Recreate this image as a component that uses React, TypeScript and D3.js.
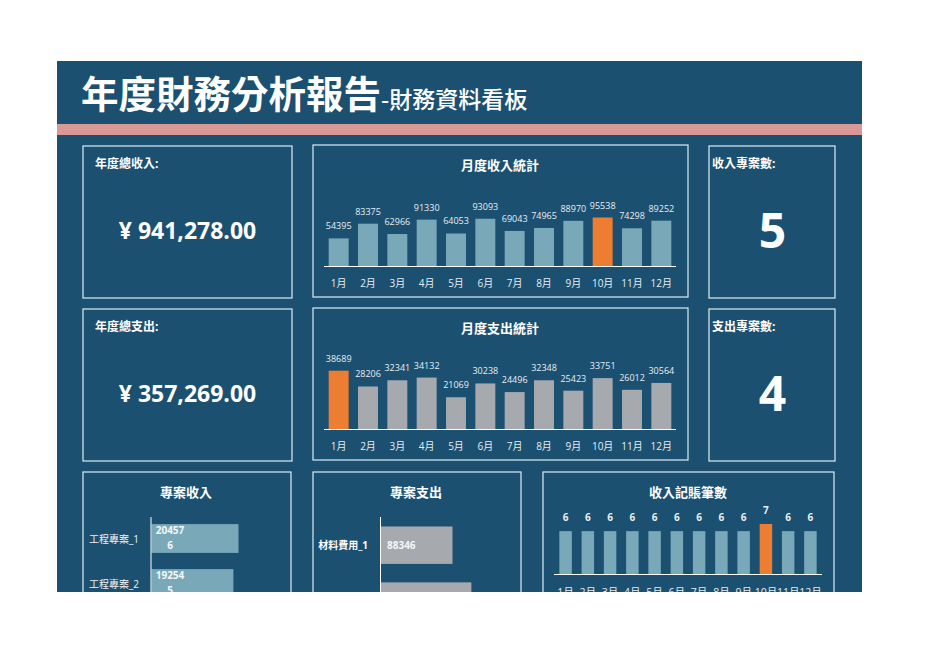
import React from 'react';
import * as d3 from 'd3';

// monthly data
const months = ['1月', '2月', '3月', '4月', '5月', '6月', '7月', '8月', '9月', '10月', '11月', '12月'];
const monthlyIncome = [54395, 83375, 62966, 91330, 64053, 93093, 69043, 74965, 88970, 95538, 74298, 89252];
const monthlyExpense = [38689, 28206, 32341, 34132, 21069, 30238, 24496, 32348, 25423, 33751, 26012, 30564];
const incomeCounts = [6, 6, 6, 6, 6, 6, 6, 6, 6, 7, 6, 6];

// project data (only the first rows are visible in the print area)
const incomeProjects = ['工程專案_1', '工程專案_2', '工程專案_3', '工程專案_4', '工程專案_5'];
const incomeProjectValues = [204576, 192545, 188000, 182000, 174157];
const expenseProjects = ['材料費用_1', '材料費用_2', '材料費用_3', '材料費用_4'];
const expenseProjectValues = [88346, 111500, 82000, 75423];

const BG = '#1c5070';
const BORDER = '#dbedf4';
const INCOME_BAR = '#79a9b9';
const EXPENSE_BAR = '#a6a9ae';
const HIGHLIGHT = '#ed7d31';
const FONT = '"Open Sans", "Noto Sans CJK TC", sans-serif';
const PAGE_BOTTOM = 592;

const fmtMoney = d3.format(',.2f');

interface Box { x: number; y: number; w: number; h: number; }

const Panel: React.FC<{ box: Box }> = ({ box }) => (
  <rect x={box.x} y={box.y} width={box.w} height={box.h} fill="none" stroke={BORDER} strokeWidth={1.2} />
);

const MonthBars: React.FC<{
  values: number[];
  color: string;
  x0: number; x1: number;
  base: number; maxVal: number; maxH: number;
  labelBold?: boolean;
  labelSize?: number;
  monthY: number;
  monthSize?: number;
  padIn: number; padOut: number;
}> = ({ values, color, x0, x1, base, maxVal, maxH, labelBold, labelSize = 9, monthY, monthSize = 10, padIn, padOut }) => {
  const x = d3.scaleBand<string>().domain(months).range([x0, x1]).paddingInner(padIn).paddingOuter(padOut);
  const y = d3.scaleLinear().domain([0, maxVal]).range([base, base - maxH]);
  const top = d3.max(values)!;
  return (
    <g>
      {values.map((v, i) => (
        <g key={i}>
          <rect x={x(months[i])} y={y(v)} width={x.bandwidth()} height={base - y(v)} fill={v === top ? HIGHLIGHT : color} />
          <text x={x(months[i])! + x.bandwidth() / 2} y={y(v) - (labelBold ? 10 : 9)} textAnchor="middle"
            fontSize={labelSize} fontWeight={labelBold ? 700 : 400} fill="#e6eef2">{v}</text>
          <text x={x(months[i])! + x.bandwidth() / 2} y={monthY} textAnchor="middle" fontSize={monthSize} fill="#e6eef2">{months[i]}</text>
        </g>
      ))}
      <line x1={x0} x2={x1} y1={base + 0.5} y2={base + 0.5} stroke="#ffffff" strokeWidth={1.2} />
    </g>
  );
};

const App: React.FC = () => {
  const totalIncome = d3.sum(monthlyIncome);
  const totalExpense = d3.sum(monthlyExpense);

  const incY = d3.scaleBand<string>().domain(incomeProjects).range([516, 516 + 45 * 5]).paddingInner(0.36).paddingOuter(0.18);
  const incX = d3.scaleLinear().domain([0, 204576]).range([0, 87]);
  const expY = d3.scaleBand<string>().domain(expenseProjects).range([517, 517 + 56 * 4]).paddingInner(0.33).paddingOuter(0.17);
  const expX = d3.scaleLinear().domain([0, 88346]).range([0, 72]);

  // rows that fall below the printed page are not drawn
  const incRows = incomeProjects.map((p, i) => ({ p, v: incomeProjectValues[i] })).filter(d => incY(d.p)! < PAGE_BOTTOM);
  const expRows = expenseProjects.map((p, i) => ({ p, v: expenseProjectValues[i] })).filter(d => expY(d.p)! < PAGE_BOTTOM);

  return (
    <svg width={936} height={662} style={{ position: 'absolute', left: 0, top: 0, fontFamily: FONT }}>
      <rect width={936} height={662} fill="#ffffff" />
      <defs>
        <clipPath id="page">
          <rect x={57} y={61} width={805} height={PAGE_BOTTOM - 61} />
        </clipPath>
      </defs>
      <g clipPath="url(#page)">
        <rect x={57} y={61} width={805} height={PAGE_BOTTOM - 61} fill={BG} />
        <text x={81} y={108} fill="#ffffff" fontWeight={700} fontSize={37.5} fontFamily='"Noto Sans CJK TC", sans-serif'>
          年度財務分析報告
          <tspan fontSize={23} fontWeight={500}>-財務資料看板</tspan>
        </text>
        <rect x={57} y={124} width={805} height={11} fill="#d99a97" />

        {/* KPI panels */}
        <Panel box={{ x: 83, y: 146, w: 209, h: 152 }} />
        <text x={95} y={168} fill="#ffffff" fontWeight={700} fontSize={12}>年度總收入:</text>
        <text x={187.5} y={239} textAnchor="middle" fill="#ffffff" fontWeight={700} fontSize={23}>¥ {fmtMoney(totalIncome)}</text>

        <Panel box={{ x: 83, y: 309, w: 209, h: 152 }} />
        <text x={95} y={331} fill="#ffffff" fontWeight={700} fontSize={12}>年度總支出:</text>
        <text x={187.5} y={402} textAnchor="middle" fill="#ffffff" fontWeight={700} fontSize={23}>¥ {fmtMoney(totalExpense)}</text>

        <Panel box={{ x: 709, y: 146, w: 126, h: 152 }} />
        <text x={712} y={168} fill="#ffffff" fontWeight={700} fontSize={12}>收入專案數:</text>
        <text x={772.5} y={248} textAnchor="middle" fill="#ffffff" fontWeight={700} fontSize={48}>{incomeProjects.length}</text>

        <Panel box={{ x: 709, y: 309, w: 126, h: 152 }} />
        <text x={712} y={331} fill="#ffffff" fontWeight={700} fontSize={12}>支出專案數:</text>
        <text x={772.5} y={411} textAnchor="middle" fill="#ffffff" fontWeight={700} fontSize={48}>{expenseProjects.length}</text>

        {/* monthly income */}
        <Panel box={{ x: 313, y: 145, w: 375, h: 152 }} />
        <text x={500} y={170} textAnchor="middle" fill="#ffffff" fontWeight={700} fontSize={13}>月度收入統計</text>
        <MonthBars values={monthlyIncome} color={INCOME_BAR} x0={324} x1={676} base={266} maxVal={95538} maxH={48.5}
          monthY={286.5} padIn={0.32} padOut={0.16} />

        {/* monthly expense */}
        <Panel box={{ x: 313, y: 308, w: 375, h: 152 }} />
        <text x={500} y={333} textAnchor="middle" fill="#ffffff" fontWeight={700} fontSize={13}>月度支出統計</text>
        <MonthBars values={monthlyExpense} color={EXPENSE_BAR} x0={324} x1={676} base={429} maxVal={38689} maxH={58.3}
          monthY={450} padIn={0.32} padOut={0.16} />

        {/* project income */}
        <Panel box={{ x: 83, y: 472, w: 208, h: 160 }} />
        <text x={186} y={497} textAnchor="middle" fill="#ffffff" fontWeight={700} fontSize={13}>專案收入</text>
        {incRows.map(({ p, v }) => {
          const y = incY(p)!;
          const s = String(v);
          return (
            <g key={p}>
              <rect x={151.5} y={y} width={incX(v)} height={incY.bandwidth()} fill={INCOME_BAR} />
              <text x={139} y={y + incY.bandwidth() / 2 + 4} textAnchor="end" fontSize={10} fill="#eef3f6">{p}</text>
              <text x={170} y={y + 10} textAnchor="middle" fontSize={10} fontWeight={700} fill="#f4f7f9">
                <tspan x={170}>{s.slice(0, 5)}</tspan>
                {y + 25 < PAGE_BOTTOM + 8 && <tspan x={170} dy={15}>{s.slice(5)}</tspan>}
              </text>
            </g>
          );
        })}
        <line x1={151} x2={151} y1={517} y2={PAGE_BOTTOM} stroke="#ffffff" strokeWidth={1} />

        {/* project expense */}
        <Panel box={{ x: 313, y: 472, w: 208, h: 160 }} />
        <text x={416} y={497} textAnchor="middle" fill="#ffffff" fontWeight={700} fontSize={13}>專案支出</text>
        {expRows.map(({ p, v }) => {
          const y = expY(p)!;
          const cy = y + expY.bandwidth() / 2 + 4;
          return (
            <g key={p}>
              <rect x={380.5} y={y} width={expX(v)} height={expY.bandwidth()} fill={EXPENSE_BAR} />
              {cy < PAGE_BOTTOM && (
                <>
                  <text x={368} y={cy} textAnchor="end" fontSize={10} fontWeight={700} fill="#ffffff">{p}</text>
                  <text x={387} y={cy} fontSize={10} fontWeight={700} fill="#f4f7f9">{v}</text>
                </>
              )}
            </g>
          );
        })}
        <line x1={380.5} x2={380.5} y1={517} y2={PAGE_BOTTOM} stroke="#ffffff" strokeWidth={1} />

        {/* income entry counts */}
        <Panel box={{ x: 543, y: 472, w: 291, h: 160 }} />
        <text x={688} y={497} textAnchor="middle" fill="#ffffff" fontWeight={700} fontSize={13}>收入記賬筆數</text>
        <MonthBars values={incomeCounts} color={INCOME_BAR} x0={554} x1={822} base={574} maxVal={7} maxH={50}
          labelBold labelSize={10} monthY={596} monthSize={10.5} padIn={0.44} padOut={0.24} />
      </g>
    </svg>
  );
};

export default App;
